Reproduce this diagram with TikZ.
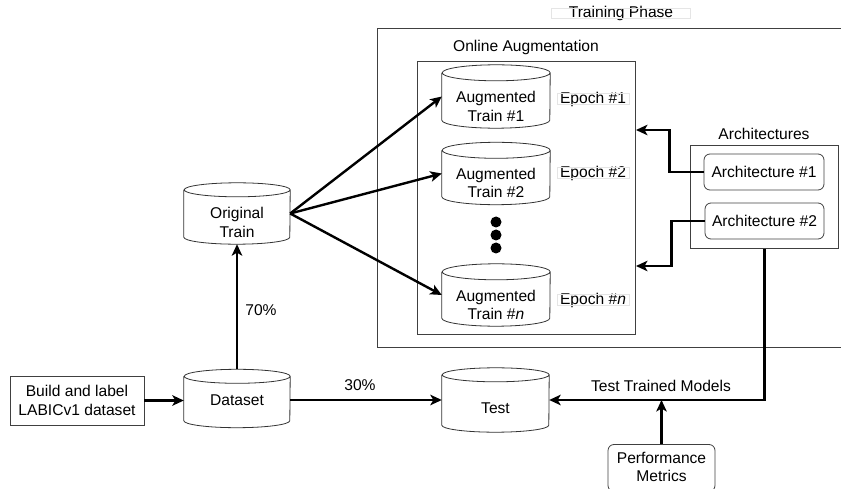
\documentclass[tikz,border=0pt]{standalone}
\usepackage{fontspec}
\setmainfont{Liberation Sans}
\usetikzlibrary{arrows.meta}
\newcommand\drawcyl[3]{% node name, half width, ry
  \draw[cylline] ([yshift=-#3]#1.north west) -- ([yshift=#3]#1.south west)
    arc[start angle=180, end angle=360, x radius=#2, y radius=#3]
    -- ([yshift=-#3]#1.north east)
    arc[start angle=0, end angle=360, x radius=#2, y radius=#3];}
\begin{document}
\begin{tikzpicture}[x=1pt,y=-1pt,
  txt/.style={font=\fontsize{15.6}{18.5}\selectfont, align=center, inner sep=0pt, text=black},
  body/.style={inner sep=0pt, draw=none},
  cylline/.style={line width=0.8pt, draw=black!80},
  boxline/.style={line width=0.8pt, draw=black!75},
  plainbox/.style={txt, boxline, inner sep=0pt},
  roundbox/.style={txt, boxline, rounded corners=6pt, inner sep=0pt},
  lightbox/.style={line width=0.7pt, draw=black!10},
  thickarrow/.style={line width=2.4pt, -{Stealth[length=11.5pt,width=10.5pt,inset=3pt]}},
]
\useasboundingbox (0,0) rectangle (841,489);

% ---- Training phase containers
\node[txt] (tp) at (621,13) {Training Phase};
\draw[lightbox] (tp.center) ++(-69.5,-5) rectangle ++(139,10);
\node[boxline, minimum width=466pt, minimum height=319pt, anchor=north west, inner sep=0pt] (outer) at (377,28) {};
\node[txt] (oa) at (526,47) {Online Augmentation};
\node[boxline, minimum width=218pt, minimum height=273pt, anchor=north west, inner sep=0pt] (inner) at (417,61) {};

% ---- Cylinders
\node[body, minimum width=106pt, minimum height=61pt] (orig) at (237,213.5) {};
\drawcyl{orig}{53pt}{7pt}
\node[txt] (origt) at (237,222.5) {Original\\Train};

\node[body, minimum width=106pt, minimum height=58pt] (data) at (237,398.5) {};
\drawcyl{data}{53pt}{7pt}
\node[txt] (datat) at (237,400) {Dataset};

\node[body, minimum width=107pt, minimum height=64pt] (test) at (495.5,400) {};
\drawcyl{test}{53.5pt}{7pt}
\node[txt] (testt) at (495.5,408) {Test};

\node[body, minimum width=108pt, minimum height=63pt] (aug1) at (496,96.5) {};
\drawcyl{aug1}{54pt}{8pt}
\node[txt] (aug1t) at (496,106.5) {Augmented\\Train \#1};

\node[body, minimum width=108pt, minimum height=62pt] (aug2) at (496,173.5) {};
\drawcyl{aug2}{54pt}{8pt}
\node[txt] (aug2t) at (496,183) {Augmented\\Train \#2};

\node[body, minimum width=108pt, minimum height=62pt] (augn) at (496,295) {};
\drawcyl{augn}{54pt}{8pt}
\node[txt] (augnt) at (496,305) {Augmented\\Train \#\textit{n}};

\fill (496,222) circle[radius=5.5pt] (496,235) circle[radius=5.5pt] (496,248) circle[radius=5.5pt];

% ---- Epoch labels
\node[txt] (e1) at (593,99) {Epoch \#1};
\draw[lightbox] (e1.center) ++(-36,-5.5) rectangle ++(72,11);
\node[txt] (e2) at (593,173) {Epoch \#2};
\draw[lightbox] (e2.center) ++(-36,-5.5) rectangle ++(72,11);
\node[txt] (en) at (593,300) {Epoch \#\textit{n}};
\draw[lightbox] (en.center) ++(-36,-5.5) rectangle ++(72,11);

% ---- Architectures
\node[txt] (archt) at (764,134) {Architectures};
\node[boxline, minimum width=148pt, minimum height=103pt, anchor=north west, inner sep=0pt] (archbox) at (690,145) {};
\node[roundbox, minimum width=120pt, minimum height=36pt] (a1) at (764,172) {Architecture \#1};
\node[roundbox, minimum width=119pt, minimum height=36pt] (a2) at (764.5,221) {Architecture \#2};

% ---- Other boxes
\node[plainbox, minimum width=134pt, minimum height=49pt] (build) at (77,400.5) {Build and label\\LABICv1 dataset};
\node[roundbox, minimum width=107pt, minimum height=47pt] (perf) at (661.5,468) {};
\node[txt] (perft) at (661.5,467) {Performance\\Metrics};

% ---- Connectors
\coordinate (in1) at (636,130);
\coordinate (in2) at (636,266);
\draw[thickarrow] (build.east) -- (build.east -| data.west);
\draw[thickarrow] (data.north) -- (orig.south);
\draw[thickarrow] (data.east |- test.west) -- (test.west);
\draw[thickarrow] (orig.east) -- (aug1.west);
\draw[thickarrow] (orig.east) -- (aug2.west);
\draw[thickarrow] (orig.east) -- (augn.west);
\draw[thickarrow] (a1.west) -- ++(-34,0) |- (in1);
\draw[thickarrow] (a2.west) -- ++(-33,0) |- (in2);
\draw[thickarrow] (archbox.south) |- (test.east);
\draw[thickarrow] (perf.north) -- (perf.north |- test.east);

% ---- Labels
\node[txt] (l70) at (261,310) {70\%};
\node[txt] (l30) at (360,385) {30\%};
\node[txt] (ltm) at (661,386) {Test Trained Models};
\end{tikzpicture}
\end{document}
